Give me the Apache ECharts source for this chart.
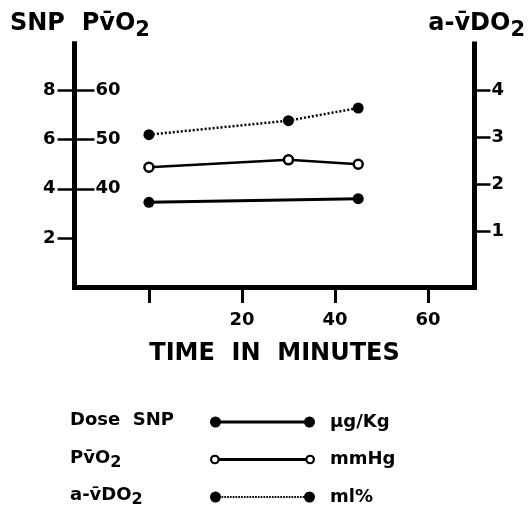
<!DOCTYPE html>
<html><head><meta charset="utf-8">
<script src="https://cdn.jsdelivr.net/npm/echarts@6/dist/echarts.min.js"></script>
<style>html,body{margin:0;padding:0;background:#fff}#c{width:531px;height:513px}</style>
</head><body><div id="c"></div>
<script>
// ---- data ----
const timesSNP = [0, 45];
const snpDose = [3.45, 3.6];
const timesO2 = [0, 30, 45];
const pvo2 = [44.4, 45.9, 45.0];
const avdo2 = [3.06, 3.36, 3.63];
const xTickValues = [0, 20, 40, 60];
const xLabelValues = [20, 40, 60];
const snpTicks = [2, 4, 6, 8];
const pvo2Ticks = [40, 50, 60];
const avdo2Ticks = [1, 2, 3, 4];
const seriesNames = ['Dose SNP', 'PvO2', 'a-vDO2'];
const units = ['\u03bcg/Kg', 'mmHg', 'ml%'];

const FONT = 'DejaVu Sans';
const VB = 'v\u0304';

function tok(size, pad) {
  const t = {fontFamily: FONT, fontWeight: 'bold', fontSize: size, color: '#000', verticalAlign: 'top', lineHeight: size + 2};
  if (pad) t.padding = [pad, 0, 0, 0];
  return t;
}
function circ(cx, cy, r, cw) {
  const s = cw ? 1 : 0;
  return `M${cx - r},${cy} A${r},${r} 0 1 ${s} ${cx + r},${cy} A${r},${r} 0 1 ${s} ${cx - r},${cy} Z `;
}
const iconSolid = 'path://' + circ(5.5, 5.5, 5.5, true) + 'M10,4 L95,4 L95,7 L10,7 Z ' + circ(99.5, 5.5, 5.5, true);
const iconOpen = 'path://' + circ(5.5, 5.5, 4.8, true) + circ(5.5, 5.5, 2.6, false) +
  'M10,4 L95,4 L95,7 L10,7 Z ' + circ(99.5, 5.5, 4.8, true) + circ(99.5, 5.5, 2.6, false);
let dots = '';
for (let x = 11.5; x < 93; x += 2.8) dots += `M${x},4.6 L${x + 1.7},4.6 L${x + 1.7},6.4 L${x},6.4 Z `;
const iconDotted = 'path://' + circ(5.5, 5.5, 5.5, true) + dots + circ(99.5, 5.5, 5.5, true);
const icons = [iconSolid, iconOpen, iconDotted];

const axisLineStyle = {color: '#000', width: 5, cap: 'square'};
const labelStyle = {color: '#000', fontFamily: FONT, fontWeight: 'bold', fontSize: 18};

const chart = echarts.init(document.getElementById('c'));
chart.setOption({
  animation: false,
  backgroundColor: '#fff',
  grid: {left: 74.5, right: 56.5, top: 44, bottom: 226},
  xAxis: {
    type: 'value', min: -16, max: 70,
    axisLine: {onZero: false, lineStyle: axisLineStyle},
    axisTick: {customValues: xTickValues, length: 16, lineStyle: {color: '#000', width: 3}},
    axisLabel: Object.assign({customValues: xLabelValues, margin: 24}, labelStyle),
    splitLine: {show: false},
    name: 'TIME  IN  MINUTES', nameLocation: 'middle', nameGap: 55,
    nameTextStyle: {color: '#000', fontFamily: FONT, fontWeight: 'bold', fontSize: 24}
  },
  yAxis: [
    {
      type: 'value', min: 0, max: 9.9, position: 'left',
      axisLine: {show: true, onZero: false, lineStyle: axisLineStyle},
      axisTick: {show: true, customValues: snpTicks, length: 17, lineStyle: {color: '#000', width: 2.5}},
      axisLabel: Object.assign({customValues: snpTicks, margin: 19}, labelStyle),
      splitLine: {show: false}
    },
    {
      type: 'value', min: 20, max: 69.5, position: 'left', offset: 0,
      axisLine: {show: true, onZero: false, lineStyle: axisLineStyle},
      axisTick: {show: true, inside: true, customValues: pvo2Ticks, length: 20, lineStyle: {color: '#000', width: 2.5}},
      axisLabel: Object.assign({inside: true, customValues: pvo2Ticks, margin: 21}, labelStyle),
      splitLine: {show: false}
    },
    {
      type: 'value', min: -0.2, max: 5.0, position: 'right',
      axisLine: {show: true, onZero: false, lineStyle: axisLineStyle},
      axisTick: {show: true, customValues: avdo2Ticks, length: 16, lineStyle: {color: '#000', width: 2.5}},
      axisLabel: Object.assign({customValues: avdo2Ticks, margin: 17}, labelStyle),
      splitLine: {show: false}
    }
  ],
  legend: {
    orient: 'vertical', left: 210, top: 413, padding: 0, itemWidth: 105, itemHeight: 11, itemGap: 19.5,
    align: 'left', selectedMode: false,
    data: seriesNames.map((n, i) => ({name: n, icon: icons[i], itemStyle: {color: '#000', borderWidth: 0}})),
    formatter: name => '{u|' + units[seriesNames.indexOf(name)] + '}',
    textStyle: {color: '#000', rich: {u: {fontFamily: FONT, fontWeight: 'bold', fontSize: 18, color: '#000', lineHeight: 20, padding: [0, 0, 0, 10]}}}
  },
  series: [
    {
      name: seriesNames[0], type: 'line', yAxisIndex: 0,
      data: timesSNP.map((t, i) => [t, snpDose[i]]),
      symbol: 'circle', symbolSize: 11,
      itemStyle: {color: '#000'}, lineStyle: {color: '#000', width: 3}
    },
    {
      name: seriesNames[1], type: 'line', yAxisIndex: 1,
      data: timesO2.map((t, i) => [t, pvo2[i]]),
      symbol: 'circle', symbolSize: 9,
      itemStyle: {color: '#fff', borderColor: '#000', borderWidth: 2.5}, lineStyle: {color: '#000', width: 2.5}
    },
    {
      name: seriesNames[2], type: 'line', yAxisIndex: 2,
      data: timesO2.map((t, i) => [t, avdo2[i]]),
      symbol: 'circle', symbolSize: 11,
      itemStyle: {color: '#000'}, lineStyle: {color: '#000', width: 2.5, type: [2, 2]}
    }
  ],
  graphic: [
    {type: 'text', x: 10, y: 12, style: {text: '{m|SNP  P' + VB + 'O}{s|2}', rich: {m: tok(24), s: tok(21, 8)}}},
    {type: 'text', x: 525, y: 12, style: {text: '{m|a-' + VB + 'DO}{s|2}', align: 'right', rich: {m: tok(24), s: tok(21, 8)}}},
    {type: 'text', x: 70, y: 411, style: {text: '{m|Dose  SNP}', rich: {m: tok(18)}}},
    {type: 'text', x: 70, y: 449, style: {text: '{m|P' + VB + 'O}{s|2}', rich: {m: tok(18), s: tok(16, 6)}}},
    {type: 'text', x: 70, y: 486, style: {text: '{m|a-' + VB + 'DO}{s|2}', rich: {m: tok(18), s: tok(16, 6)}}}
  ]
});
</script>
</body></html>
